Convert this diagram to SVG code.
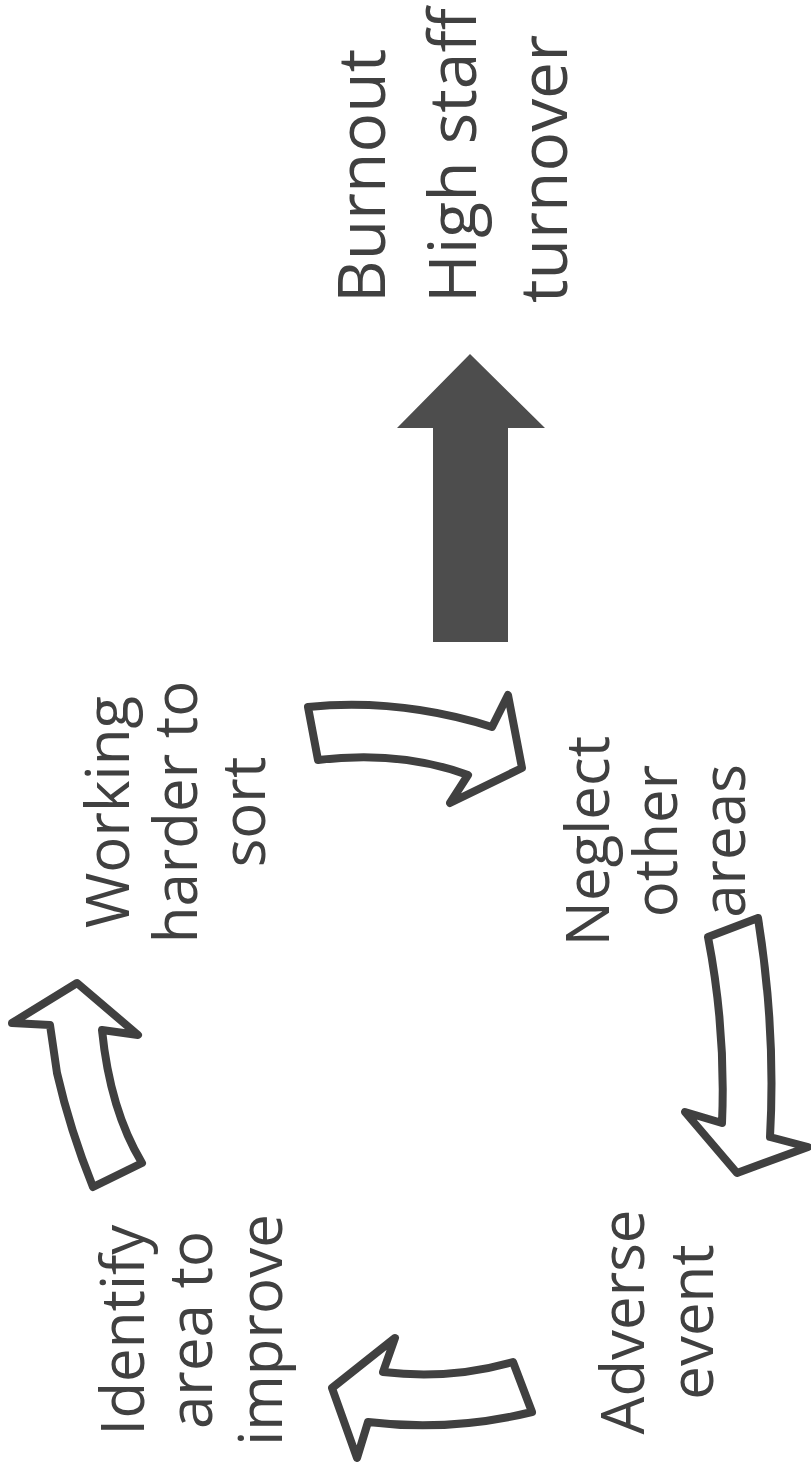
<svg xmlns="http://www.w3.org/2000/svg" width="811" height="1473" viewBox="0 0 811 1473">
<style>
.lbl{font-family:"Open Sans","Liberation Sans",sans-serif;fill:#404040;font-size:60px}
.big{font-size:66px}
.out{fill:#ffffff;stroke:#404040;stroke-width:8;stroke-linejoin:round}
.solid{fill:#4d4d4d;stroke:none}
</style>
<rect width="811" height="1473" fill="#ffffff"/>
<g id="connectors">
<path id="arrow-identify-working" class="out" d="M93,1187 Q70,1130 57,1073 L50,1025 L12,1023 L77,983 L138,1035 L102,1030 Q110,1110 142,1163 Z"/>
<path id="arrow-working-neglect" class="out" d="M308,707 Q400,698 492,727 L508,695 L522,768 L450,803 L468,775 Q400,750 318,760 Z"/>
<path id="arrow-neglect-adverse" class="out" d="M708,937 Q726,1030 722,1123 L685,1112 L737,1173 L808,1147 L770,1137 Q776,1030 758,918 Z"/>
<path id="arrow-adverse-identify" class="out" d="M513,1362 Q450,1380 383,1372 L395,1338 L332,1388 L357,1458 L368,1422 Q450,1432 532,1412 Z"/>
<path id="arrow-burnout" class="solid" d="M433,642 L433,428 L397,428 L470,354 L545,428 L508,428 L508,642 Z"/>
</g>
<g id="node-working" transform="translate(0,1473) rotate(-90)">
<text class="lbl" text-anchor="middle"><tspan x="661" y="129">Working</tspan><tspan x="661" y="197">harder to</tspan><tspan x="661" y="265">sort</tspan></text>
</g>
<g id="node-neglect" transform="translate(0,1473) rotate(-90)">
<text class="lbl" text-anchor="middle"><tspan x="632" y="609">Neglect</tspan><tspan x="632" y="677">other</tspan><tspan x="632" y="745">areas</tspan></text>
</g>
<g id="node-adverse" transform="translate(0,1473) rotate(-90)">
<text class="lbl" text-anchor="middle"><tspan x="151" y="644">Adverse</tspan><tspan x="151" y="713">event</tspan></text>
</g>
<g id="node-identify" transform="translate(0,1473) rotate(-90)">
<text class="lbl" text-anchor="middle"><tspan x="143" y="144">Identify</tspan><tspan x="143" y="212">area to</tspan><tspan x="143" y="282">improve</tspan></text>
</g>
<g id="node-burnout" transform="translate(0,1473) rotate(-90)">
<text class="lbl big"><tspan x="1170" y="385">Burnout</tspan><tspan x="1170" y="476">High staff</tspan><tspan x="1170" y="567">turnover</tspan></text>
</g>
</svg>
